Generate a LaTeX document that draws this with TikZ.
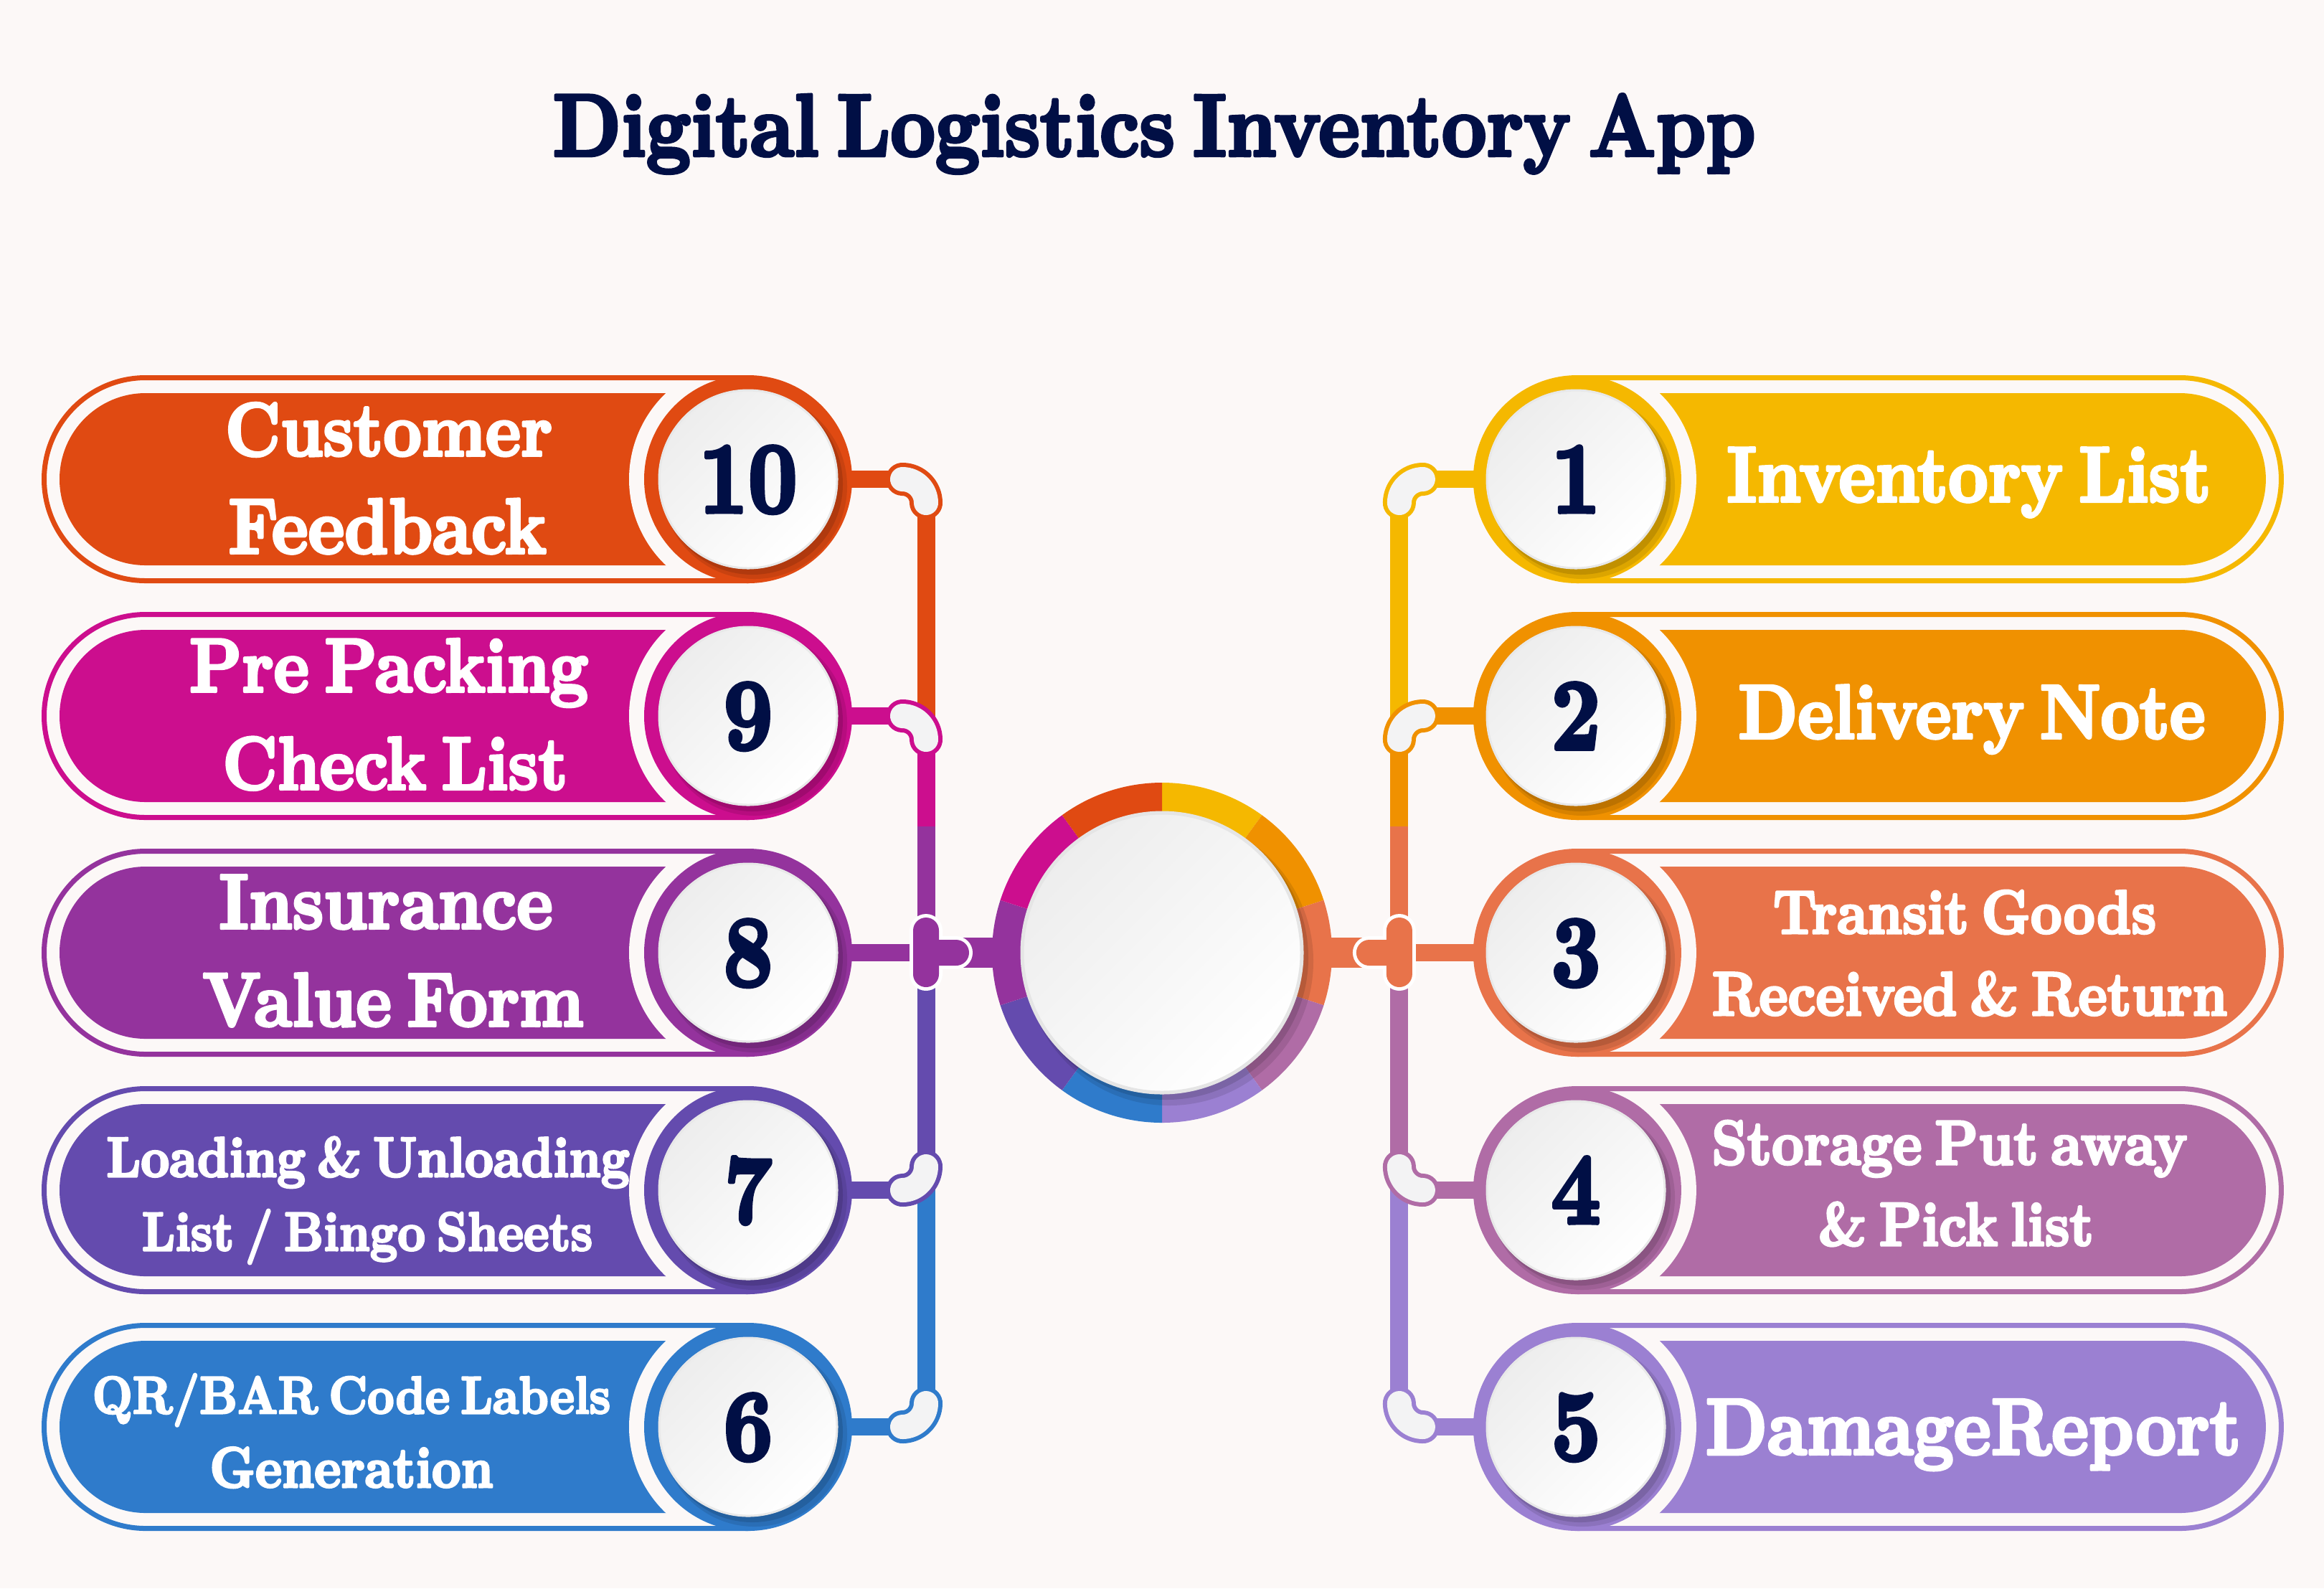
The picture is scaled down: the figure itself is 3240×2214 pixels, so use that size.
\documentclass[tikz,border=0pt]{standalone}
\usepackage{fontspec}
\usepackage{graphicx}
\newfontfamily\heavy{lmroman10-bold}[Extension=.otf, FakeBold=4, WordSpace=0.6]
\definecolor{bg}{HTML}{FCF8F7}
\definecolor{cA}{HTML}{F5B800}
\definecolor{cB}{HTML}{F09100}
\definecolor{cC}{HTML}{E8734A}
\definecolor{cD}{HTML}{B06CA6}
\definecolor{cE}{HTML}{9B80D2}
\definecolor{cF}{HTML}{2F7BCB}
\definecolor{cG}{HTML}{644BAE}
\definecolor{cH}{HTML}{94339D}
\definecolor{cI}{HTML}{CC0E8E}
\definecolor{cJ}{HTML}{E04A12}
\definecolor{navy}{HTML}{010F45}
\definecolor{beanw}{HTML}{F3F3F4}
\tikzset{
  trk/.style={line width=0.25cm},
  br/.style={line width=0.24cm},
}
% pill body, left orientation
\newcommand\pillbody[2]{%
  \fill[#2, rounded corners=1.2cm] (83,#1-120) rectangle (1100,#1+120);
  \fill[bg] (1043,#1) circle[radius=166];
  \draw[#2, line width=0.07cm] (1043,#1-141.5) -- (203,#1-141.5)
     arc[start angle=270, end angle=90, radius=141.5] -- (1043,#1+141.5);
  \fill[#2] (1043,#1) circle[radius=145];
}
\newcommand\beantop[2]{%
  \draw[#2, line width=0.46cm, line cap=round] (1258,#1) .. controls (1276.2,#1) and (1291,#1+14.8) .. (1291,#1+33);
  \draw[beanw, line width=0.34cm, line cap=round] (1258,#1) .. controls (1276.2,#1) and (1291,#1+14.8) .. (1291,#1+33);
}
\newcommand\beanbot[2]{%
  \draw[#2, line width=0.46cm, line cap=round] (1291,#1-33) .. controls (1291,#1-14.8) and (1276.2,#1) .. (1258,#1);
  \draw[beanw, line width=0.34cm, line cap=round] (1291,#1-33) .. controls (1291,#1-14.8) and (1276.2,#1) .. (1258,#1);
}
\newcommand\tjunc[1]{%
  \fill[white, rounded corners=0.23cm] (1268,1274) rectangle (1314,1381);
  \fill[white, rounded corners=0.23cm] (1285,1305) rectangle (1356,1351);
  \fill[#1, rounded corners=0.18cm] (1273,1279) rectangle (1309,1376);
  \fill[#1, rounded corners=0.18cm] (1285,1310) rectangle (1351,1346);
}
\newcommand\side[5]{%
  \draw[#1, trk] (1291,690) -- (1291,1010);
  \draw[#2, trk] (1291,1020) -- (1291,1152);
  \draw[#3, trk] (1291,1152) -- (1291,1300);
  \draw[#4, trk] (1291,1356) -- (1291,1630);
  \draw[#5, trk] (1291,1650) -- (1291,1960);
  \draw[#3, line width=0.42cm] (1320,1328) -- (1400,1328);
  \pillbody{668}{#1}
  \pillbody{998}{#2}
  \pillbody{1328}{#3}
  \pillbody{1659}{#4}
  \pillbody{1989}{#5}
  \draw[#1, br] (1180,668) -- (1262,668);
  \draw[#2, br] (1180,998) -- (1262,998);
  \draw[#3, br] (1180,1328) -- (1291,1328);
  \draw[#4, br] (1180,1659) -- (1262,1659);
  \draw[#5, br] (1180,1989) -- (1262,1989);
  \beantop{668}{#1}
  \beantop{998}{#2}
  \beanbot{1659}{#4}
  \beanbot{1989}{#5}
  \tjunc{#3}
}
\newcommand\numdisk[4]{%
  \fill[black, opacity=0.10] (#1+9,#2+10) circle[radius=129];
  \fill[black, opacity=0.12] (#1+6,#2+7) circle[radius=126];
  \shade[top color=gray!14, bottom color=white, shading angle=45] (#1,#2) circle[radius=125];
  \draw[gray!18, line width=0.03cm] (#1,#2) circle[radius=124];
  \node[anchor=base, inner sep=0pt, text=navy] (#3) at (#1,#2+46)
     {\resizebox{!}{0.92cm}{\scalebox{0.85}[1]{\heavy #4}}};
}
\newcommand\txtline[5]{%
  \node[anchor=base, inner sep=0pt, text=white] (#1) at (#2,#3)
     {\resizebox{#4cm}{!}{\scalebox{1}[1.13]{\heavy #5}}};
}
\begin{document}
\begin{tikzpicture}[x=0.01cm, y=-0.01cm, line join=round]
\useasboundingbox (0,0) rectangle (3240,2214);
\fill[bg] (0,0) rectangle (3240,2214);

% title
\node[anchor=base, inner sep=0pt, text=navy] (title) at (1609,217)
  {\resizebox{16.76cm}{!}{\scalebox{1}[1.13]{\heavy Digital Logistics Inventory App}}};

% left side
\begin{scope}
  \side{cJ}{cI}{cH}{cG}{cF}
\end{scope}
% right side (mirrored)
\begin{scope}[xshift=32.4cm, xscale=-1]
  \side{cA}{cB}{cC}{cD}{cE}
\end{scope}

% center ring
\foreach \c [count=\i from 0] in {cA,cB,cC,cD,cE,cF,cG,cH,cI,cJ}{
  \pgfmathsetmacro\a{-90+36*\i}
  \pgfmathsetmacro\b{-90+36*(\i+1)}
  \fill[\c] (1620,1328) -- ++(\a:237) arc[start angle=\a, end angle=\b, radius=237] -- cycle;
}
\fill[black, opacity=0.10] (1630,1340) circle[radius=201];
\fill[black, opacity=0.12] (1626,1335) circle[radius=198];
\shade[top color=gray!14, bottom color=white, shading angle=45] (1620,1328) circle[radius=196];
\draw[gray!20, line width=0.05cm] (1620,1328) circle[radius=195];
\coordinate (hub) at (1620,1328);

% number disks
\numdisk{1043}{668}{n10}{10}
\numdisk{1043}{998}{n9}{9}
\numdisk{1043}{1328}{n8}{8}
\numdisk{1043}{1659}{n7}{7}
\numdisk{1043}{1989}{n6}{6}
\numdisk{2197}{668}{n1}{1}
\numdisk{2197}{998}{n2}{2}
\numdisk{2197}{1328}{n3}{3}
\numdisk{2197}{1659}{n4}{4}
\numdisk{2197}{1989}{n5}{5}

% texts left
\txtline{t10a}{542}{635}{4.56}{Customer}
\txtline{t10b}{540}{771}{4.43}{Feedback}
\txtline{t9a}{542}{964}{5.56}{Pre Packing}
\txtline{t9b}{551}{1100}{4.81}{Check List}
\txtline{t8a}{538}{1294}{4.65}{Insurance}
\txtline{t8b}{548}{1430}{5.31}{Value Form}
\txtline{t7a}{513}{1640}{7.29}{Loading \& Unloading}
\txtline{t7b}{512}{1743}{6.28}{List / Bingo Sheets}
\txtline{t6a}{490}{1970}{7.22}{QR/BAR Code Labels}
\txtline{t6b}{490}{2073}{3.95}{Generation}
% texts right
\txtline{t1}{2745}{699}{6.75}{Inventory List}
\txtline{t2}{2749}{1029}{6.51}{Delivery Note}
\txtline{t3a}{2739}{1301}{5.34}{Transit Goods}
\txtline{t3b}{2746}{1415}{7.18}{Received \& Return}
\txtline{t4a}{2718}{1623}{6.63}{Storage Put away}
\txtline{t4b}{2727}{1736}{3.84}{\& Pick list}
\txtline{t5}{2751}{2027}{7.46}{DamageReport}
\end{tikzpicture}
\end{document}
